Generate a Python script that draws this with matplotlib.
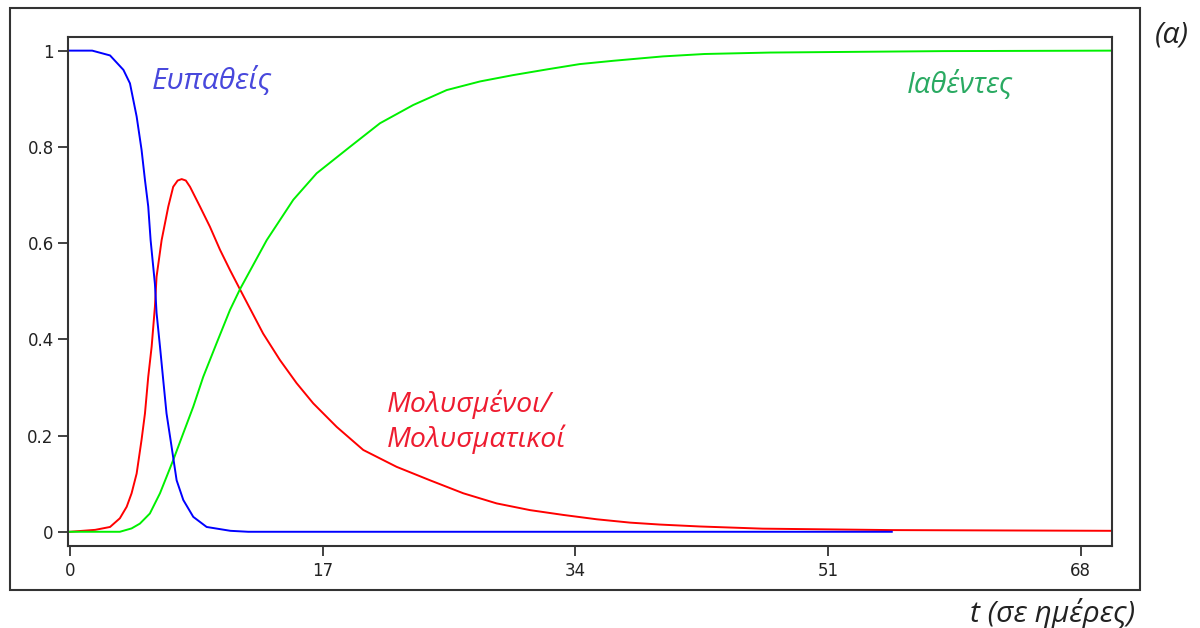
import matplotlib
matplotlib.use("Agg")
import matplotlib.pyplot as plt
from matplotlib.patches import Rectangle

# values (SIR model, fractions of population)
t_s = [0, 1.5, 2.7, 3.6, 4.04, 4.49, 4.82, 5.05, 5.27, 5.43, 5.72, 5.83, 6.06,
       6.28, 6.5, 6.84, 7.18, 7.63, 8.3, 9.2, 10.8, 12.0, 55.3]
susceptible = [1.0, 1.0, 0.99, 0.96, 0.932, 0.863, 0.794, 0.731, 0.676, 0.606,
               0.515, 0.455, 0.385, 0.315, 0.246, 0.177, 0.107, 0.066, 0.031,
               0.010, 0.002, 0.0, 0.0]

t_i = [0, 1.7, 2.7, 3.36, 3.82, 4.15, 4.49, 4.82, 5.05, 5.27, 5.5, 5.72, 5.83,
       6.17, 6.62, 6.95, 7.25, 7.52, 7.8, 8.08, 8.75, 9.42, 10.1, 10.77, 11.44,
       13.0, 14.13, 15.25, 16.37, 17.95, 19.74, 21.98, 24.23, 26.47, 28.71,
       30.96, 33.2, 35.44, 37.7, 39.7, 42.4, 46.6, 55.3, 70.1]
infected = [0.0, 0.004, 0.010, 0.028, 0.052, 0.080, 0.121, 0.191, 0.246, 0.322,
            0.385, 0.468, 0.53, 0.606, 0.676, 0.717, 0.730, 0.733, 0.730, 0.717,
            0.676, 0.634, 0.586, 0.544, 0.504, 0.412, 0.357, 0.309, 0.267,
            0.218, 0.170, 0.135, 0.107, 0.080, 0.059, 0.045, 0.035, 0.026,
            0.019, 0.015, 0.011, 0.0065, 0.0035, 0.002]

t_r = [0, 3.36, 4.15, 4.71, 5.38, 6.06, 6.5, 6.95, 7.63, 8.3, 8.97, 9.87,
       10.77, 11.44, 13.24, 15.03, 16.6, 18.84, 20.86, 23.1, 25.35, 27.6, 29.8,
       32.1, 34.3, 36.6, 39.9, 42.7, 47.1, 58.8, 70.1]
recovered = [0.0, 0.0, 0.007, 0.017, 0.038, 0.080, 0.114, 0.149, 0.205, 0.260,
             0.322, 0.392, 0.461, 0.504, 0.606, 0.690, 0.745, 0.800, 0.849,
             0.887, 0.918, 0.936, 0.949, 0.961, 0.972, 0.979, 0.988, 0.993,
             0.996, 0.999, 1.0]

x_ticks = [0, 17, 34, 51, 68]
y_ticks = [0, 0.2, 0.4, 0.6, 0.8, 1]
y_tick_labels = ["0", "0.2", "0.4", "0.6", "0.8", "1"]

label_font = ["Open Sans", "DejaVu Sans"]

fig = plt.figure(figsize=(12, 6.28), dpi=100)
ax = fig.add_axes([0.0569, 0.131, 0.8698, 0.8106])

ax.plot(t_i, infected, color="#ff0000", lw=1.4)
ax.plot(t_r, recovered, color="#00f000", lw=1.4)
ax.plot(t_s, susceptible, color="#0000ff", lw=1.4)

ax.set_xlim(-0.11, 70.12)
ax.set_ylim(-0.029, 1.029)
ax.set_xticks(x_ticks)
ax.set_yticks(y_ticks)
ax.set_yticklabels(y_tick_labels)
ax.tick_params(direction="out", length=7, width=1.3, colors="#333333",
               labelcolor="#222222", labelsize=12)
ax.tick_params(axis="x", pad=5)
ax.tick_params(axis="y", pad=3.5)
for s in ax.spines.values():
    s.set_linewidth(1.5)
    s.set_color("#333333")

ax.text(5.5, 0.922, "Ευπαθείς", color="#4848dc", fontsize=21.5, style="italic",
        family=label_font, va="baseline")
ax.text(56.3, 0.915, "Ιαθέντες", color="#2aaa62", fontsize=21, style="italic",
        family=label_font, va="baseline")
ax.text(21.3, 0.249, "Μολυσμένοι/", color="#ee1c30", fontsize=20.5, style="italic",
        family=label_font, va="baseline")
ax.text(21.3, 0.177, "Μολυσματικοί", color="#ee1c30", fontsize=20.5, style="italic",
        family=label_font, va="baseline")

# outer frame around the plot
fig.patches.append(Rectangle((0.00833, 0.0605), 0.9417, 0.9268,
                             transform=fig.transFigure, fill=False,
                             lw=1.5, edgecolor="#333333"))

fig.text(0.9625, 0.944, "(α)", fontsize=21.5, style="italic", family=label_font,
         color="#222222", va="center")
fig.text(0.946, 0.0223, "t (σε ημέρες)", fontsize=21.5, style="italic",
         family=label_font, color="#222222", va="center", ha="right")

fig.savefig("out.png", dpi=100)
